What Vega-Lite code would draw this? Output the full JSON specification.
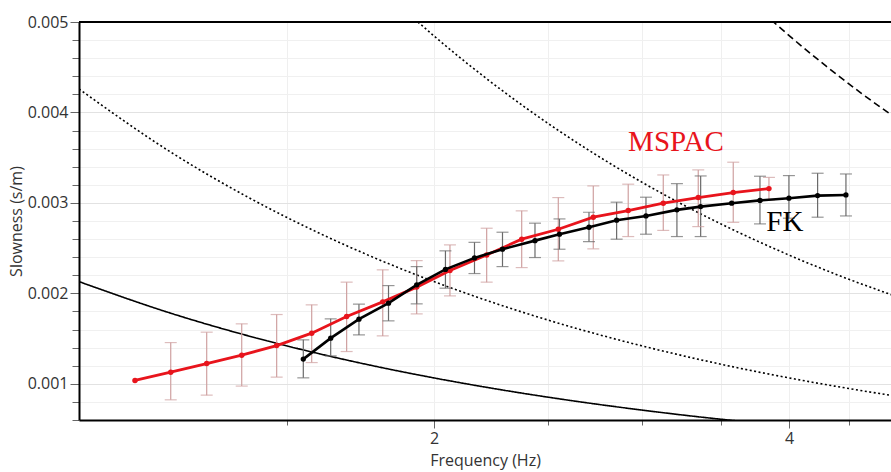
{
  "$schema": "https://vega.github.io/schema/vega-lite/v6.json",
  "width": 812,
  "height": 398,
  "autosize": "none",
  "padding": {"left": 79, "top": 22, "right": 0, "bottom": 52},
  "background": "white",
  "config": {
    "view": {"stroke": null},
    "font": "Open Sans",
    "axis": {
      "labelFont": "Open Sans", "labelFontSize": 16, "labelColor": "#333333",
      "titleFont": "Open Sans", "titleFontSize": 16, "titleFontWeight": "normal", "titleColor": "#333333",
      "domainColor": "#000000", "domainWidth": 2, "tickColor": "#666666", "tickWidth": 1,
      "gridColor": "#ececec", "labelFlush": false, "labelOverlap": false, "labelBound": false
    }
  },
  "datasets": {
    "curves": [
      {"curve": "k1", "f": 1.0, "s": 0.00213},
      {"curve": "k1", "f": 1.2, "s": 0.001775},
      {"curve": "k1", "f": 1.4, "s": 0.001521},
      {"curve": "k1", "f": 1.6, "s": 0.001331},
      {"curve": "k1", "f": 1.8, "s": 0.001183},
      {"curve": "k1", "f": 2.0, "s": 0.001065},
      {"curve": "k1", "f": 2.3, "s": 0.000926},
      {"curve": "k1", "f": 2.6, "s": 0.000819},
      {"curve": "k1", "f": 3.0, "s": 0.00071},
      {"curve": "k1", "f": 3.3, "s": 0.000645},
      {"curve": "k1", "f": 3.6, "s": 0.000592},
      {"curve": "k1", "f": 3.9, "s": 0.000546},
      {"curve": "k2", "f": 1.0, "s": 0.00426},
      {"curve": "k2", "f": 1.2, "s": 0.00355},
      {"curve": "k2", "f": 1.4, "s": 0.003043},
      {"curve": "k2", "f": 1.6, "s": 0.002663},
      {"curve": "k2", "f": 1.8, "s": 0.002367},
      {"curve": "k2", "f": 2.0, "s": 0.00213},
      {"curve": "k2", "f": 2.3, "s": 0.001852},
      {"curve": "k2", "f": 2.6, "s": 0.001638},
      {"curve": "k2", "f": 3.0, "s": 0.00142},
      {"curve": "k2", "f": 3.3, "s": 0.001291},
      {"curve": "k2", "f": 3.6, "s": 0.001183},
      {"curve": "k2", "f": 4.0, "s": 0.001065},
      {"curve": "k2", "f": 4.4, "s": 0.000968},
      {"curve": "k2", "f": 4.9, "s": 0.000869},
      {"curve": "k3", "f": 1.9, "s": 0.0051},
      {"curve": "k3", "f": 2.0, "s": 0.004845},
      {"curve": "k3", "f": 2.2, "s": 0.004405},
      {"curve": "k3", "f": 2.4, "s": 0.004038},
      {"curve": "k3", "f": 2.7, "s": 0.003589},
      {"curve": "k3", "f": 3.0, "s": 0.00323},
      {"curve": "k3", "f": 3.3, "s": 0.002936},
      {"curve": "k3", "f": 3.6, "s": 0.002692},
      {"curve": "k3", "f": 4.0, "s": 0.002423},
      {"curve": "k3", "f": 4.4, "s": 0.002202},
      {"curve": "k3", "f": 4.9, "s": 0.001978},
      {"curve": "k4", "f": 3.8, "s": 0.005105},
      {"curve": "k4", "f": 4.0, "s": 0.00485},
      {"curve": "k4", "f": 4.3, "s": 0.004512},
      {"curve": "k4", "f": 4.6, "s": 0.004217},
      {"curve": "k4", "f": 4.9, "s": 0.003959}
    ],
    "series": [
      {"series": "MSPAC", "f": 1.1155, "s": 0.001037, "lo": null, "hi": null},
      {"series": "MSPAC", "f": 1.1961, "s": 0.001129, "lo": 0.000823, "hi": 0.001456},
      {"series": "MSPAC", "f": 1.2831, "s": 0.001224, "lo": 0.000875, "hi": 0.001571},
      {"series": "MSPAC", "f": 1.3739, "s": 0.001317, "lo": 0.000975, "hi": 0.001663},
      {"series": "MSPAC", "f": 1.4709, "s": 0.001423, "lo": 0.001074, "hi": 0.001766},
      {"series": "MSPAC", "f": 1.575, "s": 0.00156, "lo": 0.001235, "hi": 0.001873},
      {"series": "MSPAC", "f": 1.6862, "s": 0.001744, "lo": 0.001357, "hi": 0.002124},
      {"series": "MSPAC", "f": 1.8093, "s": 0.001906, "lo": 0.00153, "hi": 0.00226},
      {"series": "MSPAC", "f": 1.9333, "s": 0.002069, "lo": 0.001773, "hi": 0.002362},
      {"series": "MSPAC", "f": 2.063, "s": 0.002252, "lo": 0.001972, "hi": 0.002536},
      {"series": "MSPAC", "f": 2.2163, "s": 0.002425, "lo": 0.002124, "hi": 0.00272},
      {"series": "MSPAC", "f": 2.3731, "s": 0.002599, "lo": 0.002285, "hi": 0.002912},
      {"series": "MSPAC", "f": 2.5489, "s": 0.002709, "lo": 0.002359, "hi": 0.003059},
      {"series": "MSPAC", "f": 2.7291, "s": 0.002842, "lo": 0.002492, "hi": 0.003188},
      {"series": "MSPAC", "f": 2.9217, "s": 0.002915, "lo": 0.002628, "hi": 0.003207},
      {"series": "MSPAC", "f": 3.1286, "s": 0.002997, "lo": 0.002696, "hi": 0.003309},
      {"series": "MSPAC", "f": 3.3497, "s": 0.003059, "lo": 0.002738, "hi": 0.003365},
      {"series": "MSPAC", "f": 3.5865, "s": 0.003114, "lo": 0.002785, "hi": 0.00345},
      {"series": "MSPAC", "f": 3.8454, "s": 0.003158, "lo": 0.003033, "hi": 0.003282},
      {"series": "FK", "f": 1.5494, "s": 0.001273, "lo": 0.001066, "hi": 0.001486},
      {"series": "FK", "f": 1.6345, "s": 0.001505, "lo": 0.001309, "hi": 0.001718},
      {"series": "FK", "f": 1.7272, "s": 0.001715, "lo": 0.001541, "hi": 0.001881},
      {"series": "FK", "f": 1.8298, "s": 0.001892, "lo": 0.001696, "hi": 0.002086},
      {"series": "FK", "f": 1.9333, "s": 0.002094, "lo": 0.001884, "hi": 0.002296},
      {"series": "FK", "f": 2.0449, "s": 0.002265, "lo": 0.002057, "hi": 0.00247},
      {"series": "FK", "f": 2.1642, "s": 0.002392, "lo": 0.002219, "hi": 0.002564},
      {"series": "FK", "f": 2.2858, "s": 0.002488, "lo": 0.002296, "hi": 0.002676},
      {"series": "FK", "f": 2.4355, "s": 0.002583, "lo": 0.002396, "hi": 0.002776},
      {"series": "FK", "f": 2.5548, "s": 0.002654, "lo": 0.002488, "hi": 0.002823},
      {"series": "FK", "f": 2.7063, "s": 0.002731, "lo": 0.002572, "hi": 0.002897},
      {"series": "FK", "f": 2.8563, "s": 0.002809, "lo": 0.002599, "hi": 0.003008},
      {"series": "FK", "f": 3.0247, "s": 0.002856, "lo": 0.002654, "hi": 0.003063},
      {"series": "FK", "f": 3.2131, "s": 0.002923, "lo": 0.002628, "hi": 0.003213},
      {"series": "FK", "f": 3.3655, "s": 0.002959, "lo": 0.002628, "hi": 0.003298},
      {"series": "FK", "f": 3.5753, "s": 0.002997, "lo": null, "hi": null},
      {"series": "FK", "f": 3.7786, "s": 0.003028, "lo": 0.002768, "hi": 0.003295},
      {"series": "FK", "f": 3.9983, "s": 0.003052, "lo": 0.002831, "hi": 0.003302},
      {"series": "FK", "f": 4.2286, "s": 0.003081, "lo": 0.002842, "hi": 0.003328},
      {"series": "FK", "f": 4.4691, "s": 0.003088, "lo": 0.002856, "hi": 0.00332}
    ],
    "labels": [
      {"series": "MSPAC", "f": 3.207, "s": 0.003674},
      {"series": "FK", "f": 3.967, "s": 0.00279}
    ],
    "frame": [
      {"s": 0.005}
    ]
  },
  "layer": [
    {
      "data": {"name": "curves"},
      "mark": {"type": "line", "clip": true, "interpolate": "monotone", "color": "#000000", "strokeWidth": 1.6},
      "encoding": {
        "x": {
          "field": "f", "type": "quantitative", "title": "Frequency (Hz)",
          "scale": {"type": "log", "domain": [1, 4.88], "nice": false},
          "axis": {
            "values": [1.5, 2, 2.5, 3, 3.5, 4, 4.5],
            "tickCount": 40,
            "labelExpr": "datum.value == 2 || datum.value == 4 ? datum.label : ''",
            "tickSize": {"condition": {"test": "datum.value == 2 || datum.value == 4", "value": 8}, "value": 5},
            "labelPadding": 2, "titlePadding": 6, "gridColor": "#efefef"
          }
        },
        "y": {
          "field": "s", "type": "quantitative", "title": "Slowness (s/m)",
          "scale": {"domain": [0.0006, 0.005], "nice": false, "zero": false},
          "axis": {
            "values": [0.0006, 0.0008, 0.001, 0.0012, 0.0014, 0.0016, 0.0018, 0.002, 0.0022, 0.0024, 0.0026, 0.0028, 0.003, 0.0032, 0.0034, 0.0036, 0.0038, 0.004, 0.0042, 0.0044, 0.0046, 0.0048, 0.005],
            "tickCount": 60,
            "labelExpr": "abs(datum.value*1000 - round(datum.value*1000)) < 0.01 ? format(datum.value, '.3f') : ''",
            "tickSize": {"condition": {"test": "abs(datum.value*1000 - round(datum.value*1000)) < 0.01", "value": 9}, "value": 7},
            "gridColor": {"condition": {"test": "abs(datum.value*1000 - round(datum.value*1000)) < 0.01", "value": "#e2e2e2"}, "value": "#f0f0f0"},
            "labelPadding": 2, "titlePadding": 3
          }
        },
        "strokeDash": {
          "field": "curve", "type": "nominal", "legend": null,
          "scale": {"domain": ["k1", "k2", "k3", "k4"], "range": [[1, 0], [2, 2.5], [2, 2.5], [7, 4]]}
        }
      }
    },
    {
      "data": {"name": "frame"},
      "mark": {"type": "rule", "color": "#000000", "strokeWidth": 2},
      "encoding": {"y": {"field": "s", "type": "quantitative", "title": "Slowness (s/m)"}}
    },
    {
      "data": {"name": "series"},
      "transform": [{"filter": "isValid(datum.lo)"}],
      "mark": {"type": "rule", "strokeWidth": 1.2},
      "encoding": {
        "x": {"field": "f", "type": "quantitative", "title": "Frequency (Hz)"},
        "y": {"field": "lo", "type": "quantitative", "title": "Slowness (s/m)"},
        "y2": {"field": "hi"},
        "stroke": {"field": "series", "type": "nominal", "legend": null, "scale": {"domain": ["MSPAC", "FK"], "range": ["#cfa0a0", "#6a6a6a"]}}
      }
    },
    {
      "data": {"name": "series"},
      "transform": [{"filter": "isValid(datum.lo)"}, {"fold": ["lo", "hi"], "as": ["end", "v"]}],
      "mark": {"type": "tick", "orient": "horizontal", "size": 12, "thickness": 1.2},
      "encoding": {
        "x": {"field": "f", "type": "quantitative", "title": "Frequency (Hz)"},
        "y": {"field": "v", "type": "quantitative", "title": "Slowness (s/m)"},
        "fill": {"field": "series", "type": "nominal", "legend": null, "scale": {"domain": ["MSPAC", "FK"], "range": ["#cfa0a0", "#6a6a6a"]}}
      }
    },
    {
      "data": {"name": "series"},
      "transform": [{"filter": "datum.series == 'MSPAC'"}],
      "mark": {"type": "line", "strokeWidth": 2.8, "point": {"filled": true, "size": 30}},
      "encoding": {
        "x": {"field": "f", "type": "quantitative", "title": "Frequency (Hz)"},
        "y": {"field": "s", "type": "quantitative", "title": "Slowness (s/m)"},
        "color": {"field": "series", "type": "nominal", "legend": null, "scale": {"domain": ["MSPAC", "FK"], "range": ["#e8141c", "#000000"]}}
      }
    },
    {
      "data": {"name": "series"},
      "transform": [{"filter": "datum.series == 'FK'"}],
      "mark": {"type": "line", "strokeWidth": 2.6, "point": {"filled": true, "size": 28}},
      "encoding": {
        "x": {"field": "f", "type": "quantitative", "title": "Frequency (Hz)"},
        "y": {"field": "s", "type": "quantitative", "title": "Slowness (s/m)"},
        "color": {"field": "series", "type": "nominal", "legend": null}
      }
    },
    {
      "data": {"name": "labels"},
      "mark": {"type": "text", "font": "Liberation Serif", "fontSize": 29, "align": "center", "baseline": "middle"},
      "encoding": {
        "x": {"field": "f", "type": "quantitative", "title": "Frequency (Hz)"},
        "y": {"field": "s", "type": "quantitative", "title": "Slowness (s/m)"},
        "text": {"field": "series"},
        "color": {"field": "series", "type": "nominal", "legend": null}
      }
    }
  ]
}
